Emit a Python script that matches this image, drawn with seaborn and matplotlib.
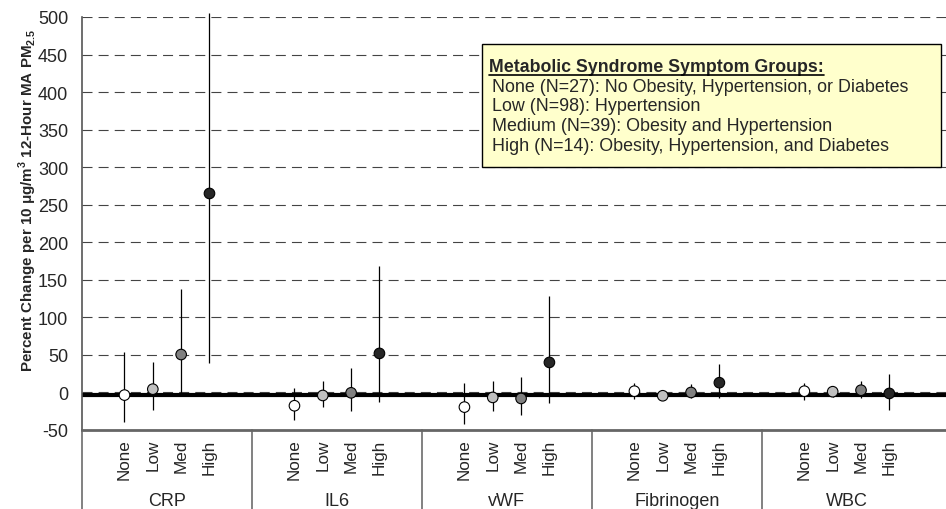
import matplotlib
matplotlib.use("Agg")
import matplotlib.pyplot as plt
import matplotlib.transforms as mtransforms
from matplotlib.patches import Rectangle
import numpy as np
import pandas as pd
import seaborn as sns


# data
markers = ["CRP", "IL6", "vWF", "Fibrinogen", "WBC"]
groups = ["None", "Low", "Med", "High"]

est = {
    "CRP": [-3.5, 4.4, 50.5, 265],
    "IL6": [-17.7, -4, -0.5, 52],
    "vWF": [-19.5, -6.6, -8, 40],
    "Fibrinogen": [1.7, -4.4, 0, 13],
    "WBC": [1.7, 1, 3, -1.3],
}
lower = {
    "CRP": [-39, -23.5, -5, 38.6],
    "IL6": [-37, -20, -25, -13],
    "vWF": [-42.5, -25, -30, -13.7],
    "Fibrinogen": [-9, -8, -8, -8],
    "WBC": [-10, -6, -8, -23.5],
}
upper = {
    "CRP": [54, 40, 138, 505],
    "IL6": [6, 15.5, 32, 168],
    "vWF": [12, 15.5, 21, 128],
    "Fibrinogen": [13, 0, 10.6, 37.6],
    "WBC": [13, 5, 15, 25],
}

legend_title = "Metabolic Syndrome Symptom Groups:"
legend_lines = [
    " None (N=27): No Obesity, Hypertension, or Diabetes",
    " Low (N=98): Hypertension",
    " Medium (N=39): Obesity and Hypertension",
    " High (N=14): Obesity, Hypertension, and Diabetes",
]

palette = {"None": "#FFFFFF", "Low": "#C0C0C0", "Med": "#808080", "High": "#262626"}

# long table, each marker gets 6 slots: blank, None, Low, Med, High, blank
rows = []
for g, m in enumerate(markers):
    for i, grp in enumerate(groups):
        rows.append({"marker": m, "group": grp, "pos": g * 6 + 1 + i,
                     "est": est[m][i], "lo": lower[m][i], "hi": upper[m][i]})
df = pd.DataFrame(rows)

sns.set_style("white")
plt.rcParams["font.family"] = ["Liberation Sans", "DejaVu Sans"]
plt.rcParams["mathtext.fontset"] = "custom"
plt.rcParams["mathtext.rm"] = "Liberation Sans"
plt.rcParams["mathtext.bf"] = "Liberation Sans:bold"
plt.rcParams["axes.unicode_minus"] = False

W, H = 946, 510
fig = plt.figure(figsize=(W / 100, H / 100), dpi=100)
L, R, T, B = 82, 946, 18, 431
ax = fig.add_axes([L / W, 1 - B / H, (R - L) / W, (B - T) / H])

# gridlines and zero reference
ax.set_ylim(-50, 500)
ax.set_xlim(-0.5, 30.0)
ax.set_yticks(np.arange(-50, 501, 50))
ax.grid(axis="y", color="#444444", linestyle=(0, (9, 5.5)), linewidth=0.8)
ax.set_axisbelow(True)
ax.axhline(-3, color="black", lw=3, zorder=1.5)

# confidence intervals
ax.vlines(df["pos"], df["lo"], df["hi"], color="black", lw=0.9, zorder=2, clip_on=False)

sns.scatterplot(data=df, x="pos", y="est", hue="group", palette=palette,
                edgecolor="black", linewidth=0.8, s=58, legend=False, zorder=3, ax=ax)

# axes styling
for side in ["top", "right"]:
    ax.spines[side].set_visible(False)
ax.spines["left"].set_color("#555555")
ax.spines["left"].set_linewidth(1.2)
ax.spines["bottom"].set_color("#666666")
ax.spines["bottom"].set_linewidth(2)
ax.tick_params(axis="y", direction="out", length=5, color="#333333", labelsize=13, pad=5)
ax.set_xticks(df["pos"])
ax.set_xticklabels(df["group"], rotation=90, fontsize=12.3, va="top")
ax.tick_params(axis="x", length=0, pad=6)
ax.set_xlabel("")
ax.set_ylabel("")

# group labels and separators below the axis
trans = mtransforms.blended_transform_factory(ax.transData, ax.transAxes)
for g, m in enumerate(markers):
    ax.text(g * 6 + 2.5, -(502 - B) / (B - T), m, transform=trans,
            ha="center", va="center", fontsize=13)
for xsep in [-0.5, 5.5, 11.5, 17.5, 23.5]:
    ax.plot([xsep, xsep], [0, -0.2], transform=trans, color="#777777",
            lw=1.3, clip_on=False)

fig.text(28 / W, 1 - 200 / H,
         r"Percent Change per 10 μg/m$^\mathbf{3}$ 12-Hour MA PM$_\mathbf{2.5}$",
         rotation=90, ha="center", va="center", fontsize=10.9, fontweight="bold")

# note box
def ax_xy(px, py):
    return (px - L) / (R - L), (B - py) / (B - T)

x0, y0 = ax_xy(482, 168)
x1, y1 = ax_xy(941, 45)
ax.add_patch(Rectangle((x0, y0), x1 - x0, y1 - y0, transform=ax.transAxes,
                       facecolor="#FFFFCC", edgecolor="black", lw=1, zorder=5))
tx, ty = ax_xy(489, 67)
title = ax.text(tx, ty, legend_title, transform=ax.transAxes, ha="left", va="center",
                fontsize=12.8, fontweight="bold", zorder=6)
for k, line in enumerate(legend_lines):
    lx, ly = ax_xy(487, 87 + 19.7 * k)
    ax.text(lx, ly, line, transform=ax.transAxes, ha="left", va="center",
            fontsize=12.9, zorder=6)

fig.canvas.draw()
bb = title.get_window_extent(renderer=fig.canvas.get_renderer())
inv = ax.transAxes.inverted()
(ux0, uy), (ux1, _) = inv.transform([[bb.x0, bb.y0 - 1], [bb.x1, bb.y0 - 1]])
ax.plot([ux0, ux1], [uy, uy], transform=ax.transAxes, color="black", lw=1.2, zorder=6)

fig.savefig("out.png", dpi=100)
